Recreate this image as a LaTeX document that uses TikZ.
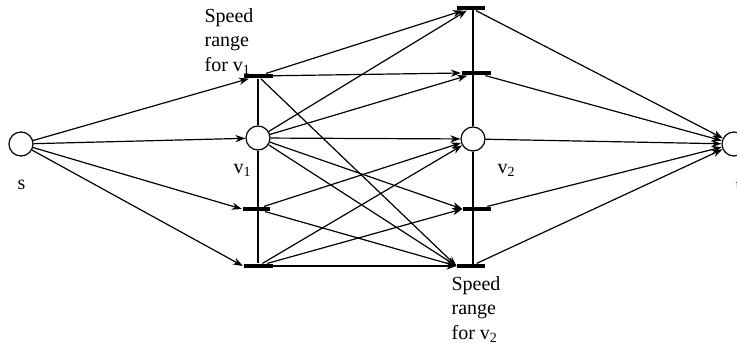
\documentclass[tikz,border=0pt]{standalone}
\usepackage{fontspec}
\setmainfont{Liberation Serif}
\usepackage{tikz}
\usetikzlibrary{
    positioning,
    arrows.meta
}
\tikzset{
    >={Stealth[length=5pt,width=3.6pt,inset=1.6pt]},
    vertex/.style={
        circle,
        draw,
        fill=white,
        minimum size=12pt,
        inner sep=0pt
    },
    speedbar/.style={
        rectangle,
        fill=black,
        minimum height=2pt,
        inner sep=0pt
    },
    lbl/.style={
        inner sep=0pt,
        font=\fontsize{10}{12.25}\selectfont
    }
}

\begin{document}
\begin{tikzpicture}[
    x=0.5pt,
    y=-0.5pt,
    line width=0.6pt
]
    \useasboundingbox (0,0) rectangle (737,342);

    % Origen y destino
    \node[vertex] (s) at (21,144)  {};
    \node[vertex] (t) at (734,144) {};

    % Columna de v1
    \node[speedbar, minimum width=14.5pt] (u1) at (258,76)  {};
    \node[vertex]                         (v1) at (258,138) {};
    \node[speedbar, minimum width=13.5pt] (l1) at (256,209) {};
    \node[speedbar, minimum width=14.5pt] (b1) at (258,266) {};

    % Columna de v2
    \node[speedbar, minimum width=14pt]   (t2) at (471,8)   {};
    \node[speedbar, minimum width=14.5pt] (u2) at (476,73)  {};
    \node[vertex]                         (v2) at (473,139) {};
    \node[speedbar, minimum width=14pt]   (l2) at (477,209) {};
    \node[speedbar, minimum width=14pt]   (b2) at (471,266) {};

    % Rotulos
    \node[lbl, anchor=base west] (ls)  at (17,189)  {s};
    \node[lbl, anchor=base west] (lt)  at (735,191) {t};
    \node[lbl, anchor=base west] (lv1) at (233,173) {v\textsubscript{1}};
    \node[lbl, anchor=base west] (lv2) at (497,173) {v\textsubscript{2}};
    \node[lbl, anchor=north west, align=left] (r1) at (204,8)
        {Speed\\range\\for v\textsubscript{1}};
    \node[lbl, anchor=north west, align=left] (r2) at (451,276)
        {Speed\\range\\for v\textsubscript{2}};

    % Columnas
    \draw (u1) -- (v1);
    \draw (v1) -- (b1);
    \draw (t2 -| v2) -- (v2);
    \draw (v2) -- (v2 |- b2);

    % Arcos
    \path[->]

        % Desde s
        (s)
            edge (u1)
            edge (v1)
            edge (l1.west)
            edge (b1.west)

        % Desde la columna de v1
        (u1)
            edge (t2)
            edge (u2.west)
            edge (b2.west)
        (v1)
            edge (t2)
            edge (u2)
            edge (v2)
            edge (l2.west)
            edge (b2.west)
        (l1)
            edge (v2)
            edge (b2.west)
        (b1)
            edge (v2)
            edge (l2.west)
            edge (b2.west)

        % Hacia t
        (t2) edge (t)
        (u2) edge (t)
        (v2) edge (t)
        (l2) edge (t)
        (b2) edge (t);

\end{tikzpicture}
\end{document}
